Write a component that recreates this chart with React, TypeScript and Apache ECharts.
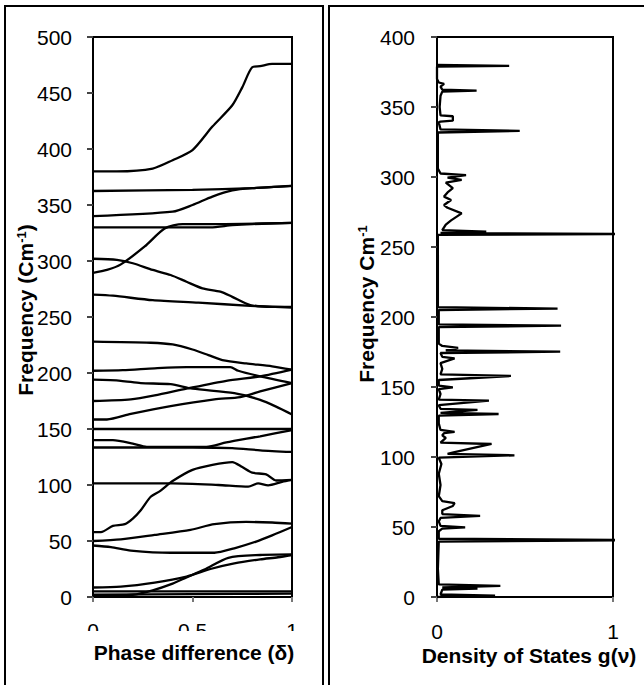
import React, { useEffect, useRef } from "react";
import * as echarts from "echarts";

// ---- Left panel: phonon dispersion branches, [phase difference δ, frequency cm-1]
const branch380 = [[0, 380], [0.12, 380], [0.3, 382.5], [0.4, 390], [0.5, 399], [0.6, 420], [0.7, 439], [0.75, 455], [0.8, 473], [0.84, 474], [0.9, 476], [1, 476]];
const branch362 = [[0, 362.5], [0.5, 363.5], [0.8, 365], [1, 367]];
const branch340 = [[0, 340], [0.4, 344], [0.5, 350], [0.6, 357.5], [0.7, 363], [0.8, 365], [1, 367]];
const branch330 = [[0, 330], [0.3, 330], [0.59, 330], [0.7, 332], [0.8, 333], [1, 334]];
const branch289 = [[0, 289.5], [0.07, 292], [0.14, 297], [0.26, 313], [0.36, 329], [0.45, 333], [0.6, 333], [1, 334]];
const branch302 = [[0, 302], [0.12, 301], [0.2, 298], [0.3, 292], [0.39, 287.5], [0.47, 281.5], [0.55, 275.6], [0.64, 272.6], [0.7, 268], [0.79, 260.7], [0.9, 259], [1, 259]];
const branch270 = [[0, 270], [0.1, 269], [0.3, 265], [0.53, 262.8], [0.79, 260], [1, 258.5]];
const branch228 = [[0, 228], [0.29, 227], [0.4, 225.5], [0.5, 221], [0.58, 216], [0.65, 211.5], [0.77, 208.5], [0.9, 206], [1, 203]];
const branch202 = [[0, 202], [0.15, 202.5], [0.31, 204.2], [0.47, 205.3], [0.69, 205.3], [0.73, 202], [0.84, 197], [1, 191]];
const branch194 = [[0, 194], [0.14, 193], [0.24, 191], [0.39, 190], [0.5, 186], [0.71, 182], [0.84, 176], [0.92, 170], [1, 163]];
const branch175 = [[0, 175], [0.19, 176.5], [0.31, 180], [0.47, 186], [0.67, 193], [0.84, 197], [1, 203]];
const branch158 = [[0, 158.5], [0.07, 158.5], [0.19, 163.5], [0.39, 170.5], [0.61, 176.5], [0.74, 178.5], [0.84, 183.5], [1, 191]];
const branch150 = [[0, 150], [0.6, 150], [1, 150]];
const branch140 = [[0, 140], [0.1, 140], [0.2, 137], [0.27, 134], [0.57, 134], [0.67, 138], [0.84, 143.5], [1, 149]];
const branch133 = [[0, 133.5], [0.5, 133.5], [0.7, 133], [0.84, 131], [1, 129.5]];
const branch58 = [[0, 58], [0.04, 58], [0.1, 63.5], [0.16, 65], [0.2, 70], [0.24, 77.5], [0.29, 89.5], [0.34, 95], [0.4, 103.5], [0.5, 113.5], [0.6, 118], [0.7, 120.5], [0.75, 116], [0.8, 111], [0.87, 109.5], [0.92, 104], [1, 104.5]];
const branch101 = [[0, 101.5], [0.4, 101.5], [0.63, 100], [0.78, 98.5], [0.83, 101.5], [0.88, 99.7], [0.95, 102.8], [1, 104.5]];
const branch50 = [[0, 50], [0.14, 51.5], [0.31, 55.5], [0.49, 60], [0.61, 65], [0.77, 67], [0.9, 66.5], [1, 65.5]];
const branch46 = [[0, 46], [0.09, 44.5], [0.19, 41.5], [0.39, 39.5], [0.61, 39.5], [0.71, 43.5], [0.82, 49.5], [0.9, 55], [1, 62.5]];
const branch8 = [[0, 8.5], [0.14, 9.2], [0.31, 12.8], [0.47, 18.2], [0.59, 25], [0.71, 30], [0.84, 33.6], [0.93, 35.5], [1, 37.5]];
const branch1 = [[0, 1], [0.2, 2], [0.3, 6], [0.4, 12], [0.47, 17.5], [0.56, 24.5], [0.68, 35], [0.84, 37.5], [1, 38]];
const branch5 = [[0, 5], [0.5, 5], [1, 5]];
const branch2 = [[0, 2], [0.5, 2.5], [1, 3]];

const branches = [
  branch380, branch362, branch340, branch330, branch289, branch302, branch270,
  branch228, branch202, branch194, branch175, branch158, branch150, branch140,
  branch133, branch58, branch101, branch50, branch46, branch8, branch1, branch5, branch2,
];

// ---- Right panel: density of states g(ν) versus frequency
const dosFreq = [
  0, 1.0, 1.8, 5.2, 6.0, 6.8, 7.9, 9.0, 20, 39.6, 40.7, 41.6, 47, 48.8, 49.8, 50.8, 54, 56.5, 58, 59.2,
  62, 65, 67, 68.5, 72, 80, 88, 95, 99.5, 101.2, 102.2, 103.5, 109.3, 110.3, 113.6, 115.5, 117, 118, 119.3, 124,
  129.5, 130.7, 131.5, 133.6, 134.4, 137, 140.2, 141, 145, 148.5, 149.8, 151, 155, 157.9, 159, 163, 167, 170.5, 171.5, 174.3,
  175.2, 176.2, 178, 179.3, 181, 192.8, 193.8, 194.8, 205, 206, 207, 258.6, 259.3, 260, 261, 262, 266, 269, 274, 278,
  280, 283.6, 286, 289, 292, 296, 298, 299.5, 301.4, 302.5, 306, 331.8, 333, 334, 339, 339.6, 340.2, 343.4, 344, 350,
  358, 361, 361.7, 362.4, 364.5, 366.5, 367.5, 370, 378.8, 379.4, 380,
];
const dosDensity = [
  0, 0.33, 0.02, 0.03, 0.23, 0.03, 0.36, 0.01, 0.005, 0.01, 1.2, 0.01, 0.01, 0.03, 0.16, 0.02, 0.01, 0.02, 0.245, 0.03,
  0.03, 0.09, 0.1, 0.03, 0.01, 0.02, 0.01, 0.025, 0.01, 0.44, 0.06, 0.1, 0.31, 0.02, 0.05, 0.03, 0.04, 0.1, 0.02, 0.01,
  0.01, 0.35, 0.02, 0.23, 0.02, 0.01, 0.295, 0.01, 0.02, 0.01, 0.09, 0.01, 0.01, 0.42, 0.02, 0.03, 0.02, 0.1, 0.03, 0.02,
  0.7, 0.05, 0.12, 0.03, 0.01, 0.01, 0.705, 0.01, 0.01, 0.685, 0.005, 0.005, 1.2, 0.02, 0.28, 0.03, 0.05, 0.08, 0.14, 0.06,
  0.04, 0.08, 0.04, 0.06, 0.09, 0.05, 0.14, 0.06, 0.165, 0.02, 0.005, 0.005, 0.47, 0.02, 0.01, 0.02, 0.09, 0.09, 0.02, 0.015,
  0.02, 0.03, 0.225, 0.03, 0.02, 0.04, 0.01, 0, 0, 0.41, 0,
];

const FONT = '"Liberation Sans", Arial, Helvetica, sans-serif';

export default function App() {
  const ref = useRef<HTMLDivElement>(null);

  useEffect(() => {
    if (!ref.current) return;
    const chart = echarts.init(ref.current, null, { renderer: "svg" });

    const axisLineStyle = { show: true, lineStyle: { color: "#000", width: 2 } };
    const labelStyle = (margin: number) => ({ fontSize: 21, color: "#000", fontFamily: FONT, margin });

    const leftSeries = branches.map((b, i) => ({
      type: "line",
      name: "branch" + i,
      xAxisIndex: 0,
      yAxisIndex: 0,
      data: b,
      showSymbol: false,
      smooth: 0.25,
      lineStyle: { color: "#000", width: 2.3 },
      silent: true,
    }));

    const dosData = dosFreq.map((f, i) => [dosDensity[i], f]);

    const option = {
      animation: false,
      backgroundColor: "#fff",
      grid: [
        { left: 93, top: 37, width: 199, height: 560, show: true, borderColor: "#000", borderWidth: 2, backgroundColor: "transparent" },
        { left: 437, top: 37, width: 176, height: 560, show: true, borderColor: "#000", borderWidth: 2, backgroundColor: "transparent" },
      ],
      xAxis: [
        {
          gridIndex: 0, type: "value", min: 0, max: 1, interval: 0.5,
          axisLine: axisLineStyle,
          axisTick: { show: true, length: 5, lineStyle: { color: "#777", width: 2 } },
          axisLabel: labelStyle(23),
          splitLine: { show: false },
        },
        {
          gridIndex: 1, type: "value", min: 0, max: 1, interval: 1,
          axisLine: axisLineStyle,
          axisTick: { show: true, length: 5, lineStyle: { color: "#777", width: 2 } },
          axisLabel: labelStyle(24),
          splitLine: { show: false },
        },
      ],
      yAxis: [
        {
          gridIndex: 0, type: "value", min: 0, max: 500, interval: 50,
          axisLine: axisLineStyle,
          axisTick: { show: true, length: 6, lineStyle: { color: "#444", width: 2 } },
          axisLabel: labelStyle(21),
          splitLine: { show: false },
        },
        {
          gridIndex: 1, type: "value", min: 0, max: 400, interval: 50,
          axisLine: axisLineStyle,
          axisTick: { show: true, length: 6, lineStyle: { color: "#444", width: 2 } },
          axisLabel: labelStyle(22),
          splitLine: { show: false },
        },
      ],
      series: [
        ...leftSeries,
        {
          type: "line",
          name: "DOS",
          xAxisIndex: 1,
          yAxisIndex: 1,
          data: dosData,
          showSymbol: false,
          clip: true,
          lineStyle: { color: "#000", width: 2.3 },
          silent: true,
        },
      ],
      graphic: [
        { type: "rect", z: 100, shape: { x: 60, y: 631, width: 250, height: 10 }, style: { fill: "#fff" } },
        { type: "rect", z: 101, shape: { x: 5, y: 6, width: 318, height: 720 }, style: { fill: "none", stroke: "#000", lineWidth: 2 } },
        { type: "rect", z: 101, shape: { x: 329, y: 6, width: 340, height: 720 }, style: { fill: "none", stroke: "#000", lineWidth: 2 } },
        {
          type: "text", z: 102, x: 194, y: 652,
          style: { text: "Phase difference (δ)", fontSize: 21, fontWeight: "bold", fontFamily: FONT, fill: "#000", align: "center", verticalAlign: "middle" },
        },
        {
          type: "text", z: 102, x: 529, y: 655,
          style: { text: "Density of States g(ν)", fontSize: 21, fontWeight: "bold", fontFamily: FONT, fill: "#000", align: "center", verticalAlign: "middle" },
        },
        {
          type: "text", z: 102, x: 25, y: 310, rotation: Math.PI / 2,
          style: {
            text: "Frequency (Cm{sup|-1})",
            fontSize: 21, fontWeight: "bold", fontFamily: FONT, fill: "#000", align: "center", verticalAlign: "middle",
            rich: { sup: { fontSize: 13, fontWeight: "bold", fontFamily: FONT, fill: "#000", verticalAlign: "top" } },
          },
        },
        {
          type: "text", z: 102, x: 366, y: 304, rotation: Math.PI / 2,
          style: {
            text: "Frequency Cm{sup|-1}",
            fontSize: 21, fontWeight: "bold", fontFamily: FONT, fill: "#000", align: "center", verticalAlign: "middle",
            rich: { sup: { fontSize: 13, fontWeight: "bold", fontFamily: FONT, fill: "#000", verticalAlign: "top" } },
          },
        },
      ],
    };

    chart.setOption(option as any);
    return () => chart.dispose();
  }, []);

  return (
    <div
      ref={ref}
      style={{ position: "fixed", left: 0, top: 0, width: 644, height: 685, background: "#fff" }}
    />
  );
}
